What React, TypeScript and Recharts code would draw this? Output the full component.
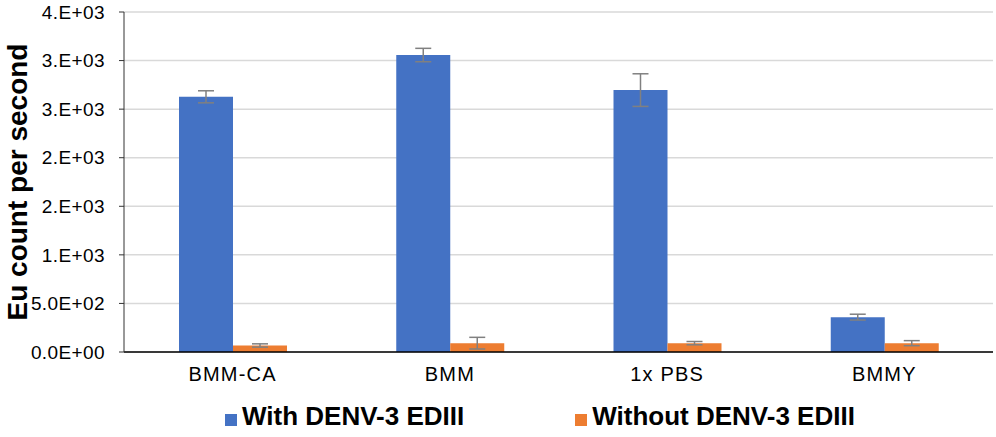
import React from "react"
import { Bar, BarChart, CartesianGrid, XAxis, YAxis, Legend, ErrorBar } from "recharts"

const categories = ["BMM-CA", "BMM", "1x PBS", "BMMY"]
const withDenv = [2627, 3057, 2696, 359]
const withDenvErr = [62, 69, 168, 30]
const withoutDenv = [67, 91, 91, 91]
const withoutDenvErr = [17, 60, 17, 26]

const yTicks = [0, 500, 1000, 1500, 2000, 2500, 3000, 3500]
const yTickLabels = ["0.0E+00", "5.0E+02", "1.E+03", "2.E+03", "2.E+03", "3.E+03", "3.E+03", "4.E+03"]

const seriesNames = ["With DENV-3 EDIII", "Without DENV-3 EDIII"]
const BLUE = "#4472C4"
const ORANGE = "#ED7D31"
const FONT = "'Liberation Sans', Arial, Helvetica, sans-serif"

const data = categories.map((name, i) => ({
  name,
  with: withDenv[i],
  withErr: withDenvErr[i],
  without: withoutDenv[i],
  withoutErr: withoutDenvErr[i],
}))

function ChartLegend() {
  const items = [
    { label: seriesNames[0], color: BLUE },
    { label: seriesNames[1], color: ORANGE },
  ]
  return (
    <div style={{ display: "flex", paddingLeft: 225, paddingTop: 9, gap: 111, fontFamily: FONT }}>
      {items.map((it) => (
        <div key={it.label} style={{ display: "flex", alignItems: "center" }}>
          <span style={{ width: 12, height: 12, background: it.color, marginRight: 5, marginTop: 7 }} />
          <span style={{ fontSize: 26, fontWeight: "bold", color: "#000" }}>{it.label}</span>
        </div>
      ))}
    </div>
  )
}

export default function App() {
  return (
    <div style={{ position: "absolute", left: 0, top: 0, background: "#fff" }}>
      <BarChart
        width={996}
        height={437}
        data={data}
        margin={{ top: 12, right: 3, left: 0, bottom: 0 }}
        barGap={0}
        barSize={54}
      >
        <CartesianGrid vertical={false} stroke="#d9d9d9" strokeWidth={1.5} />
        <XAxis
          dataKey="name"
          height={40}
          tickLine={false}
          tickSize={0}
          tickMargin={15}
          axisLine={{ stroke: "#000", strokeWidth: 1.5 }}
          tick={{ fill: "#000", fontSize: 20, fontFamily: FONT, letterSpacing: 1.2 }}
        />
        <YAxis
          width={124}
          domain={[0, 3500]}
          ticks={yTicks}
          interval={0}
          tickSize={5}
          tickMargin={14}
          tickFormatter={(v: number) => yTickLabels[yTicks.indexOf(v)]}
          axisLine={{ stroke: "#333" }}
          tickLine={{ stroke: "#333" }}
          tick={{ fill: "#000", fontSize: 19, fontFamily: FONT, letterSpacing: 0.4 }}
          label={{
            value: "Eu count per second",
            angle: -90,
            position: "center",
            dx: -45,
            style: { fontSize: 28, fontWeight: "bold", fill: "#000", fontFamily: FONT },
          }}
        />
        <Legend verticalAlign="bottom" height={45} content={() => <ChartLegend />} />
        <Bar dataKey="with" name={seriesNames[0]} fill={BLUE} isAnimationActive={false}>
          <ErrorBar dataKey="withErr" width={8} stroke="#808080" strokeWidth={1.5} isAnimationActive={false} />
        </Bar>
        <Bar dataKey="without" name={seriesNames[1]} fill={ORANGE} isAnimationActive={false}>
          <ErrorBar dataKey="withoutErr" width={8} stroke="#808080" strokeWidth={1.5} isAnimationActive={false} />
        </Bar>
      </BarChart>
    </div>
  )
}
